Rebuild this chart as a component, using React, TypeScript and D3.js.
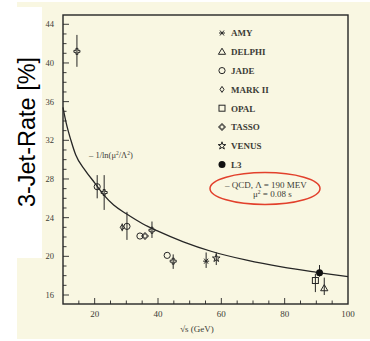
import React from "react";
import * as d3 from "d3";

// ---- data ----
const experiments = ["AMY", "DELPHI", "JADE", "MARK II", "OPAL", "TASSO", "VENUS", "L3"];

// [sqrt(s) GeV, rate %, err high, err low]
const amyPts = [[55.2, 19.5, 20.4, 18.8]];
const delphiPts = [[92.5, 16.7, 17.8, 16.0]];
const jadePts = [
  [20.8, 27.2, 28.4, 26.0],
  [30.2, 23.1, 24.6, 21.7],
  [34.3, 22.1, 22.1, 22.1],
  [42.9, 20.1, 20.1, 20.1],
];
const markIIPts = [[28.7, 23.0, 23.4, 22.6]];
const opalPts = [[89.7, 17.5, 18.2, 16.3]];
const tassoPts = [
  [14.4, 41.2, 42.9, 39.6],
  [23.0, 26.6, 28.4, 24.8],
  [35.9, 22.1, 22.1, 22.1],
  [38.1, 22.7, 23.6, 21.9],
  [44.8, 19.5, 20.2, 18.7],
];
const venusPts = [[58.4, 19.8, 20.4, 19.1]];
const l3Pts = [[91.0, 18.3, 19.1, 17.9]];

const seriesPts = [amyPts, delphiPts, jadePts, markIIPts, opalPts, tassoPts, venusPts, l3Pts];

// QCD curve
const curveX = [10, 11, 12.5, 14, 17, 20, 23, 26, 30, 35, 40, 48, 57, 68, 79, 90, 100];
const curveY = [35.4, 33.8, 32.0, 30.5, 28.9, 27.6, 26.3, 25.3, 24.4, 23.4, 22.6, 21.5, 20.5, 19.6, 18.9, 18.35, 17.9];

const xTickLabels = [20, 40, 60, 80, 100];
const yTickLabels = [16, 20, 24, 28, 32, 36, 40, 44];

const INK = "#262626";
const TXT = "#3c3c36";
const BG = "#f9f7e2";

function Marker({ type, cx, cy }: { type: string; cx: number; cy: number }) {
  const s = { fill: "none", stroke: INK, strokeWidth: 1 };
  switch (type) {
    case "AMY":
      return (
        <g stroke={INK} strokeWidth={1}>
          <line x1={cx - 3} y1={cy} x2={cx + 3} y2={cy} />
          <line x1={cx - 2} y1={cy - 2.5} x2={cx + 2} y2={cy + 2.5} />
          <line x1={cx - 2} y1={cy + 2.5} x2={cx + 2} y2={cy - 2.5} />
        </g>
      );
    case "DELPHI":
      return <path d={`M${cx},${cy - 3.6}L${cx + 3.6},${cy + 2.5}L${cx - 3.6},${cy + 2.5}Z`} {...s} />;
    case "JADE":
      return <circle cx={cx} cy={cy} r={3.1} {...s} />;
    case "MARK II":
      return <path d={`M${cx},${cy - 3}L${cx + 2},${cy}L${cx},${cy + 3}L${cx - 2},${cy}Z`} {...s} />;
    case "OPAL":
      return <rect x={cx - 3} y={cy - 3} width={6} height={6} {...s} />;
    case "TASSO":
      return (
        <path
          d={d3.symbol().type(d3.symbolCross).size(20)() as string}
          transform={`translate(${cx},${cy})`}
          {...s}
        />
      );
    case "VENUS":
      return (
        <path
          d={d3.symbol().type(d3.symbolStar).size(18)() as string}
          transform={`translate(${cx},${cy})`}
          {...s}
        />
      );
    case "L3":
      return <circle cx={cx} cy={cy} r={3.5} fill="#111" />;
  }
  return null;
}

export default function App() {
  const x = d3.scaleLinear().domain([10, 100]).range([63, 348]);
  const y = d3.scaleLinear().domain([15.07, 44.96]).range([304, 15]);

  const line = d3
    .line<number>()
    .x((_, i) => x(curveX[i]))
    .y((d) => y(d))
    .curve(d3.curveMonotoneX);

  const yMinor = d3.range(16, 45, 1);
  const xMinor = d3.range(15, 100, 5);

  return (
    <svg
      width={370}
      height={341}
      style={{ position: "absolute", left: 0, top: 0 }}
      fontFamily="'Liberation Serif', 'DejaVu Serif', serif"
    >
      <rect x={0} y={0} width={370} height={341} fill="#ffffff" />
      <rect x={17} y={2} width={353} height={337} fill={BG} />
      <rect x={17} y={7} width={25} height={251} fill="#ffffff" />

      {/* frame */}
      <rect x={63} y={15} width={285} height={289} fill="none" stroke={INK} strokeWidth={1.4} />

      {/* y ticks */}
      {yMinor.map((v) => (
        <line
          key={"ym" + v}
          x1={63}
          x2={63 + (v % 4 === 0 ? 6 : 3.5)}
          y1={y(v)}
          y2={y(v)}
          stroke={INK}
          strokeWidth={0.9}
        />
      ))}
      {yTickLabels.map((v) => (
        <text key={"yl" + v} x={54} y={y(v) + 3} textAnchor="end" fontSize={8.5} fill={TXT}>
          {v}
        </text>
      ))}

      {/* x ticks */}
      {xMinor.map((v) => (
        <line
          key={"xm" + v}
          x1={x(v)}
          x2={x(v)}
          y1={304}
          y2={304 - (v % 20 === 0 ? 6 : 3.5)}
          stroke={INK}
          strokeWidth={0.9}
        />
      ))}
      {xTickLabels.map((v) => (
        <text key={"xl" + v} x={x(v)} y={317} textAnchor="middle" fontSize={9} fill={TXT}>
          {v}
        </text>
      ))}
      <text x={197} y={332} textAnchor="middle" fontSize={9} fill={TXT}>
        √s (GeV)
      </text>

      {/* curve */}
      <path d={line(curveY) as string} fill="none" stroke={INK} strokeWidth={1.3} />

      {/* data points */}
      {seriesPts.map((pts, si) =>
        pts.map((p, i) => (
          <g key={si + "-" + i}>
            {p[2] !== p[3] && (
              <line x1={x(p[0])} x2={x(p[0])} y1={y(p[2])} y2={y(p[3])} stroke={INK} strokeWidth={1} />
            )}
            <Marker type={experiments[si]} cx={x(p[0])} cy={y(p[1])} />
          </g>
        ))
      )}

      {/* legend */}
      {experiments.map((name, i) => (
        <g key={name}>
          <Marker type={name} cx={222} cy={33 + i * 18.8} />
          <text x={231} y={33 + i * 18.8 + 3.3} fontSize={9} fontWeight="bold" fill={TXT}>
            {name}
          </text>
        </g>
      ))}

      {/* annotations */}
      <text x={89} y={158} fontSize={8.5} fill={TXT}>
        – 1/ln(μ
        <tspan dy={-3} fontSize={5.5}>2</tspan>
        <tspan dy={3}>/Λ</tspan>
        <tspan dy={-3} fontSize={5.5}>2</tspan>
        <tspan dy={3}>)</tspan>
      </text>
      <text x={225} y={188} fontSize={9} fill={TXT}>
        – QCD, Λ = 190 MEV
      </text>
      <text x={253} y={197} fontSize={9} fill={TXT}>
        μ<tspan dy={-3} fontSize={5.5}>2</tspan>
        <tspan dy={3}> = 0.08 s</tspan>
      </text>
      <ellipse cx={265} cy={188.5} rx={55} ry={16} fill="none" stroke="#e2402c" strokeWidth={1.5} />

      {/* y label */}
      <text
        transform="translate(35,132) rotate(-90)"
        textAnchor="middle"
        fontSize={23.5}
        fontFamily="'Liberation Sans', Arial, sans-serif"
        fill="#000"
      >
        3-Jet-Rate [%]
      </text>
    </svg>
  );
}
